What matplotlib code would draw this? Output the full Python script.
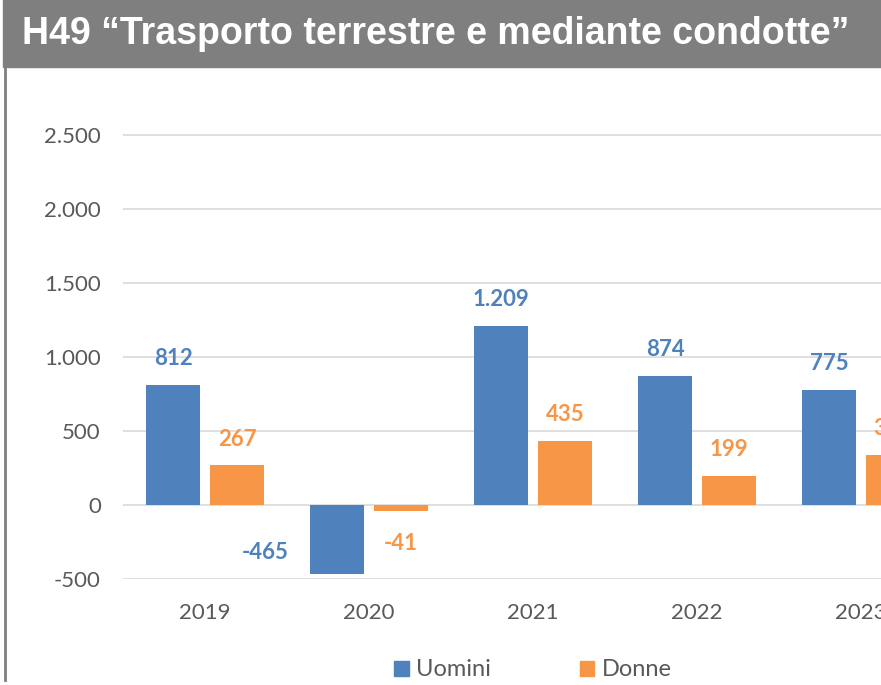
import matplotlib
matplotlib.use("Agg")
import matplotlib.pyplot as plt
from matplotlib.patches import Rectangle
from matplotlib.ticker import FuncFormatter
import numpy as np

years = ["2019", "2020", "2021", "2022", "2023"]
uomini = [812, -465, 1209, 874, 775]
donne = [267, -41, 435, 199, 340]

blue = "#4F81BD"
orange = "#F79646"
txt = "#595959"


def fmt(v):
    return "{:,}".format(int(v)).replace(",", ".")


plt.rcParams['font.family'] = ['Lato', 'DejaVu Sans']

fig = plt.figure(figsize=(8.81, 6.85), dpi=100)
ax = fig.add_axes([123 / 881, 106 / 685, 820 / 881, 518 / 685])

x = np.arange(len(years))
off = 0.195
w = 0.33
b1 = ax.bar(x - off, uomini, w, color=blue, zorder=2)
b2 = ax.bar(x + off, donne, w, color=orange, zorder=2)

ax.set_xlim(-0.5, 4.5)
ax.set_ylim(-500, 3000)
ax.set_yticks([-500, 0, 500, 1000, 1500, 2000, 2500])
ax.yaxis.set_major_formatter(FuncFormatter(lambda v, p: fmt(v)))
ax.set_xticks(x)
ax.set_xticklabels(years)
ax.tick_params(axis='y', length=0, pad=16, labelsize=16, labelcolor=txt)
ax.tick_params(axis='x', length=0, pad=17, labelsize=16, labelcolor=txt)
ax.grid(axis='y', color="#D9D9D9", linewidth=1.2, zorder=0)
for s in ax.spines.values():
    s.set_visible(False)

# data labels (negatives were moved by hand in the original)
for i in range(len(years)):
    u = uomini[i]
    d = donne[i]
    if u >= 0:
        ax.annotate(fmt(u), (x[i] - off, u), xytext=(0, 19), textcoords="offset points",
                    ha="center", va="center", color=blue, fontsize=16, fontweight="bold")
    else:
        ax.annotate(fmt(u), (x[i] - off, u), xytext=(-52, 15), textcoords="offset points",
                    ha="center", va="center", color=blue, fontsize=16, fontweight="bold")
    if d >= 0:
        ax.annotate(fmt(d), (x[i] + off, d), xytext=(0, 19), textcoords="offset points",
                    ha="center", va="center", color=orange, fontsize=16, fontweight="bold")
    else:
        ax.annotate(fmt(d), (x[i] + off, d), xytext=(0, -23), textcoords="offset points",
                    ha="center", va="center", color=orange, fontsize=16, fontweight="bold")

# title band and left rule
fig.patches.append(Rectangle((3 / 881, 618 / 685), 1, 67 / 685, transform=fig.transFigure,
                             color="#7F7F7F", zorder=5))
fig.add_artist(plt.Line2D([5 / 881, 5 / 881], [5 / 685, 618 / 685], transform=fig.transFigure,
                          color="#7F7F7F", linewidth=2))
fig.text(22 / 881, 651 / 685, "H49 \u201cTrasporto terrestre e mediante condotte\u201d",
         color="white", fontsize=27, fontweight="bold", family="Liberation Sans",
         va="center", ha="left", zorder=6)

h1 = Rectangle((0, 0), 1, 1, color=blue)
h2 = Rectangle((0, 0), 1, 1, color=orange)
leg = fig.legend([h1, h2], ["Uomini", "Donne"], loc="center", bbox_to_anchor=(533 / 881, 15 / 685),
                 ncol=2, frameon=False, fontsize=17, handlelength=0.6, handleheight=0.6,
                 handletextpad=0.3, columnspacing=3.8)
for t in leg.get_texts():
    t.set_color(txt)

fig.savefig("out.png", dpi=100)
